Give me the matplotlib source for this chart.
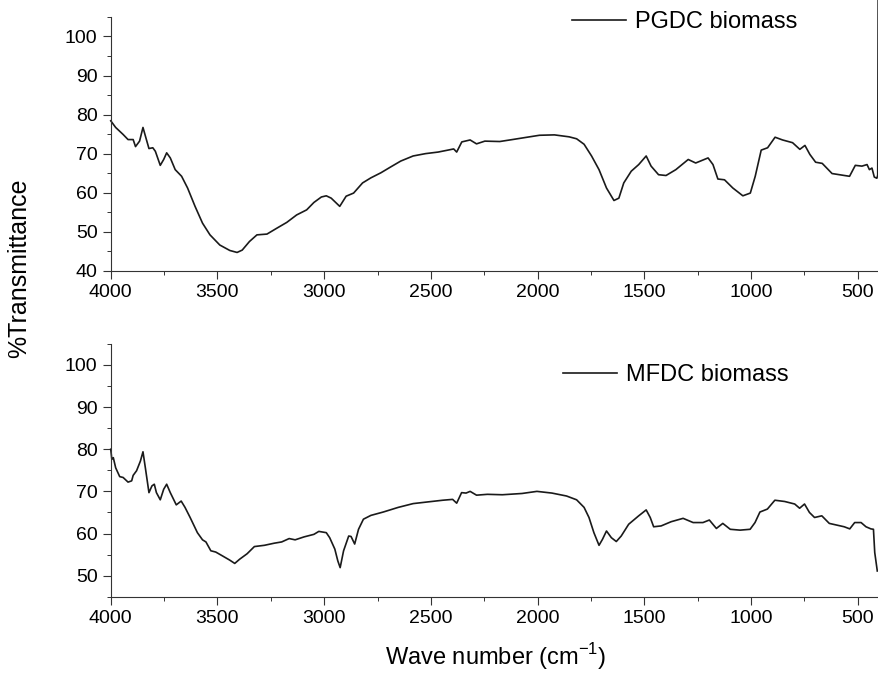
import numpy as np
import matplotlib.pyplot as plt
from matplotlib.ticker import MultipleLocator

plt.rcParams['font.family'] = ['Liberation Sans', 'DejaVu Sans']
plt.rcParams['mathtext.fontset'] = 'custom'
plt.rcParams['mathtext.rm'] = 'Liberation Sans'

# PGDC biomass spectrum (wave number, %T)
pgdc_wn = [4000, 3977, 3942, 3919, 3895, 3884, 3865, 3849, 3833, 3821, 3803, 3791, 3768, 3752,
           3738, 3721, 3698, 3668, 3640, 3605, 3570, 3535, 3489, 3442, 3408, 3384, 3350, 3315,
           3268, 3222, 3175, 3129, 3082, 3048, 3013, 2990, 2967, 2927, 2897, 2862, 2820, 2781,
           2734, 2688, 2641, 2583, 2525, 2466, 2420, 2393, 2379, 2355, 2316, 2286, 2247, 2177,
           2118, 2049, 1991, 1921, 1852, 1817, 1782, 1747, 1712, 1677, 1642, 1619, 1596, 1561,
           1526, 1491, 1468, 1433, 1398, 1352, 1294, 1259, 1201, 1178, 1155, 1124, 1085, 1038,
           1003, 980, 952, 922, 887, 852, 805, 771, 747, 724, 697, 666, 620, 562, 538, 511, 480,
           456, 445, 433, 422, 410, 406, 404]
pgdc_t = [78.4, 76.7, 74.9, 73.6, 73.6, 71.8, 73.2, 76.7, 73.6, 71.3, 71.5, 70.6, 67.0, 68.5,
          70.2, 68.9, 65.9, 64.2, 61.2, 56.5, 52.2, 49.2, 46.6, 45.2, 44.7, 45.3, 47.5, 49.2,
          49.4, 50.9, 52.4, 54.3, 55.6, 57.5, 58.9, 59.2, 58.6, 56.5, 59.1, 59.9, 62.5, 63.8,
          65.1, 66.6, 68.1, 69.4, 70.0, 70.4, 70.9, 71.2, 70.4, 73.0, 73.5, 72.5, 73.2, 73.1,
          73.6, 74.2, 74.7, 74.8, 74.3, 73.8, 72.4, 69.4, 65.9, 61.2, 58.0, 58.6, 62.5, 65.5,
          67.2, 69.4, 66.8, 64.6, 64.4, 65.9, 68.5, 67.6, 68.9, 67.2, 63.5, 63.3, 61.2, 59.2,
          59.9, 64.2, 70.9, 71.5, 74.2, 73.5, 72.8, 71.1, 72.1, 69.8, 67.8, 67.5, 64.9, 64.4,
          64.2, 67.0, 66.8, 67.2, 65.9, 66.3, 64.0, 63.7, 64.5, 110.0]

# MFDC biomass spectrum
mfdc_wn = [4000, 3995, 3988, 3977, 3958, 3942, 3919, 3902, 3895, 3879, 3861, 3849, 3837, 3821,
           3807, 3796, 3786, 3768, 3752, 3738, 3721, 3693, 3670, 3652, 3628, 3594, 3570, 3554,
           3531, 3508, 3477, 3443, 3419, 3396, 3361, 3327, 3280, 3234, 3199, 3164, 3136, 3094,
           3048, 3025, 2990, 2974, 2950, 2936, 2925, 2909, 2885, 2874, 2857, 2839, 2816, 2781,
           2723, 2653, 2583, 2514, 2444, 2398, 2379, 2356, 2335, 2316, 2286, 2235, 2165, 2073,
           2003, 1933, 1864, 1817, 1782, 1759, 1736, 1712, 1696, 1677, 1654, 1631, 1608, 1573,
           1526, 1491, 1472, 1456, 1421, 1374, 1318, 1271, 1225, 1195, 1162, 1132, 1097, 1051,
           1004, 981, 958, 923, 888, 842, 795, 772, 749, 726, 702, 668, 633, 598, 563, 537, 514,
           484, 461, 438, 426, 420, 408]
mfdc_t = [80.0, 77.6, 78.0, 75.6, 73.5, 73.3, 72.2, 72.5, 73.8, 74.9, 77.2, 79.4, 75.3, 69.7,
          71.3, 71.7, 69.7, 68.0, 70.5, 71.7, 69.7, 66.8, 67.7, 66.2, 63.8, 60.2, 58.5, 58.0,
          55.9, 55.6, 54.7, 53.7, 52.9, 53.9, 55.2, 56.9, 57.2, 57.7, 58.0, 58.8, 58.5, 59.2,
          59.8, 60.5, 60.2, 59.0, 56.3, 53.5, 51.9, 55.9, 59.4, 59.3, 57.5, 61.0, 63.4, 64.3,
          65.1, 66.2, 67.1, 67.5, 67.9, 68.1, 67.2, 69.7, 69.6, 70.0, 69.1, 69.3, 69.2, 69.5,
          70.0, 69.6, 68.9, 68.0, 66.2, 63.8, 60.2, 57.2, 58.6, 60.6, 59.0, 58.1, 59.4, 62.2,
          64.2, 65.6, 63.8, 61.6, 61.8, 62.8, 63.6, 62.6, 62.6, 63.2, 61.2, 62.4, 61.0, 60.8,
          61.0, 62.6, 65.1, 65.8, 67.9, 67.6, 67.0, 66.0, 67.0, 65.0, 63.8, 64.2, 62.4, 62.0,
          61.6, 61.1, 62.6, 62.6, 61.6, 61.1, 61.0, 55.5, 51.1]

xticks = [4000, 3500, 3000, 2500, 2000, 1500, 1000, 500]

fig = plt.figure(figsize=(8.79, 6.77), dpi=100)
ax1 = fig.add_axes([0.126, 0.600, 0.874, 0.375])
ax2 = fig.add_axes([0.126, 0.1186, 0.874, 0.3734])

line_col = '#1a1a1a'


def style(ax, ylo, yhi, yticks):
    ax.set_xlim(4000, 400)
    ax.set_ylim(ylo, yhi)
    ax.set_xticks(xticks)
    ax.set_yticks(yticks)
    ax.xaxis.set_minor_locator(MultipleLocator(250))
    ax.yaxis.set_minor_locator(MultipleLocator(5))
    for s in ['top', 'right']:
        ax.spines[s].set_visible(False)
    for s in ['left', 'bottom']:
        ax.spines[s].set_linewidth(0.8)
        ax.spines[s].set_color('#333333')
    ax.tick_params(which='major', direction='out', length=6, width=0.8, labelsize=14, color='#333333')
    ax.tick_params(which='minor', direction='out', length=3, width=0.7, color='#333333')


ax1.plot(pgdc_wn, pgdc_t, color=line_col, lw=1.2, label='PGDC biomass', clip_on=False)
style(ax1, 40, 105, [40, 50, 60, 70, 80, 90, 100])
ax1.legend(loc='center left', bbox_to_anchor=(572 / 879, 1 - 22 / 677), bbox_transform=fig.transFigure,
           frameon=False, fontsize=17, handlelength=2.3, handletextpad=0.35, borderpad=0, borderaxespad=0)

ax2.plot(mfdc_wn, mfdc_t, color=line_col, lw=1.2, label='MFDC biomass', clip_on=False)
style(ax2, 45, 105, [50, 60, 70, 80, 90, 100])
ax2.legend(loc='center left', bbox_to_anchor=(563 / 879, 1 - 375 / 677), bbox_transform=fig.transFigure,
           frameon=False, fontsize=17, handlelength=2.3, handletextpad=0.35, borderpad=0, borderaxespad=0)

fig.text(0.564, 0.030, 'Wave number (cm$^{\\mathrm{-1}}$)', ha='center', va='center', fontsize=17)
fig.text(0.022, 0.604, '%Transmittance', rotation=90, ha='center', va='center', fontsize=18)

fig.savefig('out.png', dpi=100)
